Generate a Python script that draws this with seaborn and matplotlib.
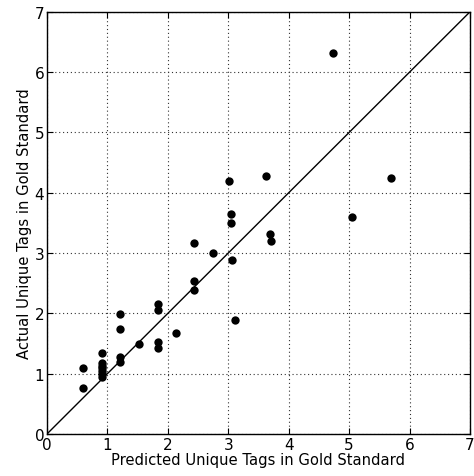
import matplotlib
matplotlib.use("Agg")
import matplotlib.pyplot as plt
import seaborn as sns
import pandas as pd

predicted = [0.60, 0.60, 0.91, 0.91, 0.91, 0.91, 0.91, 0.91, 0.91,
             1.21, 1.21, 1.21, 1.21, 1.53, 1.83, 1.83, 1.83, 1.83,
             2.14, 2.44, 2.44, 2.43, 2.75, 3.06, 3.04, 3.04, 3.01,
             3.11, 3.63, 3.69, 3.70, 4.73, 5.70, 5.05]
actual = [1.09, 0.76, 1.35, 1.18, 1.13, 1.09, 1.04, 0.99, 0.95,
          1.99, 1.74, 1.28, 1.20, 1.50, 2.16, 2.06, 1.52, 1.42,
          1.67, 2.38, 2.54, 3.17, 3.00, 2.88, 3.50, 3.64, 4.20,
          1.89, 4.28, 3.32, 3.20, 6.31, 4.25, 3.59]
x_ticks = [0, 1, 2, 3, 4, 5, 6, 7]
y_ticks = [0, 1, 2, 3, 4, 5, 6, 7]

df = pd.DataFrame({"pred": predicted, "act": actual})

sns.set_theme(style="white")
plt.rcParams["font.family"] = ["DejaVu Sans"]

fig = plt.figure(figsize=(4.74, 4.77), dpi=100)
ax = fig.add_axes([0.099, 0.088, 0.8926, 0.8852])

ax.plot([0, 7], [0, 7], color="black", linewidth=1.0, zorder=2)
sns.scatterplot(data=df, x="pred", y="act", ax=ax, color="black", s=36,
                edgecolor="black", linewidth=0, zorder=3, legend=False)

ax.set_xlim(0, 7)
ax.set_ylim(0, 7)
ax.set_xticks(x_ticks)
ax.set_yticks(y_ticks)
ax.grid(True, color="#333333", linestyle=(0, (1, 2.5)), linewidth=0.8)
ax.set_axisbelow(True)
for sp in ax.spines.values():
    sp.set_visible(True)
    sp.set_color("black")
    sp.set_linewidth(1.0)
ax.tick_params(direction="in", length=4, width=0.8, top=True, right=True,
               bottom=True, left=True, labelsize=11, colors="black", pad=2)
ax.set_xlabel("Predicted Unique Tags in Gold Standard", fontsize=10.6, color="black", labelpad=0)
ax.set_ylabel("Actual Unique Tags in Gold Standard", fontsize=10.6, color="black", labelpad=2)

fig.savefig("out.png", dpi=100)
